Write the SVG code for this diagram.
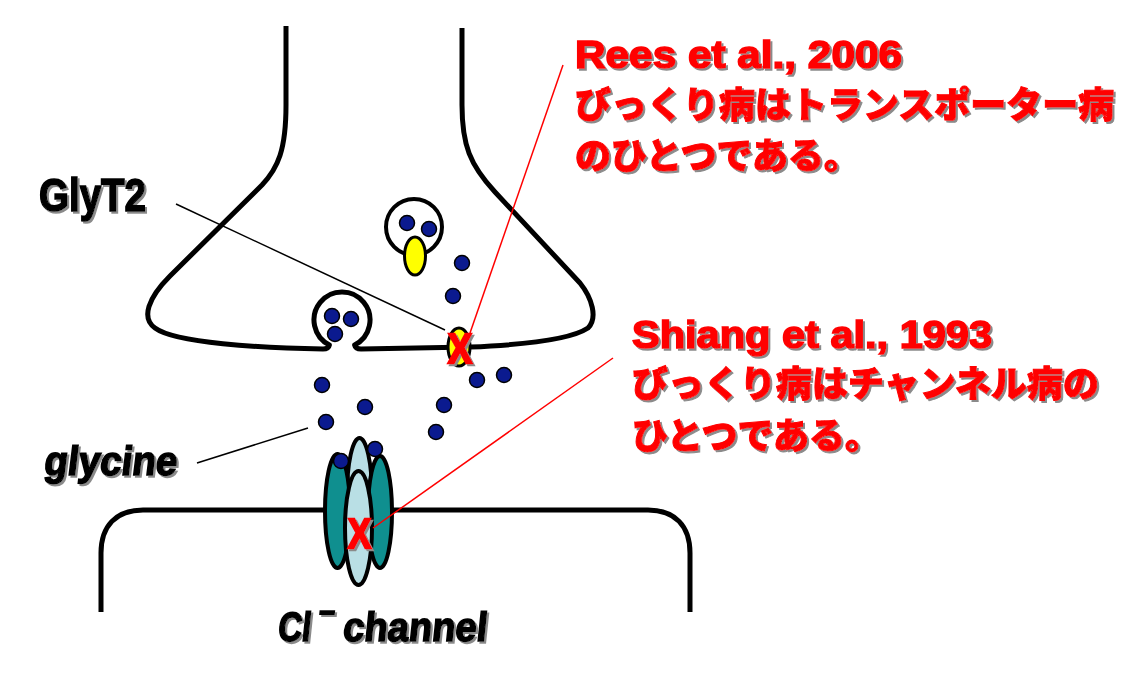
<svg xmlns="http://www.w3.org/2000/svg" width="1147" height="680" viewBox="0 0 1147 680">
<style>
.mem{fill:none;stroke:#000;stroke-width:5;stroke-linecap:butt;stroke-linejoin:round}
.ves{fill:#fff;stroke:#000;stroke-width:4}
.dot{fill:#0b1a8f;stroke:#000;stroke-width:1.5}
.yel{fill:#ffff00;stroke:#000;stroke-width:3}
.teal{fill:#0f8f8f;stroke:#000;stroke-width:4}
.lite{fill:#b9dfe5;stroke:#000;stroke-width:4}
.lead{fill:none;stroke:#000;stroke-width:1.5}
.redl{fill:none;stroke:#ff0000;stroke-width:1.5}
.red{fill:#ff0000;stroke:#ff0000;stroke-width:1.6;paint-order:stroke;font-family:"Liberation Sans","Noto Sans CJK JP",sans-serif;font-weight:bold}
.jp{fill:#ff0000;stroke:#ff0000;stroke-width:1;paint-order:stroke;font-family:"Noto Sans CJK JP",sans-serif;font-weight:900;font-size:36px}
.blk{fill:#000;stroke:#000;stroke-width:1.6;paint-order:stroke;font-family:"Liberation Sans",sans-serif;font-weight:bold}
.xm{fill:#ff0000;stroke:#ff0000;stroke-width:2.5;paint-order:stroke;font-family:"Liberation Sans",sans-serif;font-weight:bold;font-size:42px}
</style>
<defs>
<filter id="sh" x="-10%" y="-20%" width="130%" height="150%">
<feDropShadow dx="2" dy="2" stdDeviation="0.5" flood-color="#8a8a8a" flood-opacity="1"/>
</filter>
</defs>
<rect width="1147" height="680" fill="#fff"/>

<g id="postsynaptic">
<path class="mem" d="M101,612 L101,553 C101,526 116,510 143,510 L648,510 C675,510 690,526 690,553 L690,612"/>
</g>

<g id="presynaptic">
<path class="mem" d="M286,26 L286,105 C286,150 278,168 262,185 L170,276 C148,298 141,318 155,328 C175,343 260,348 323,349 C327,349 329,347 329.4,345 A28,28 0 1 1 354.6,345 C355,347 357,349 361,349 L470,347 C520,345 570,340 588,328 C598,318 592,298 580,283 L495,192 C470,165 462,145 462,105 L462,28"/>
</g>

<g id="vesicle-reserve">
<circle class="ves" cx="414" cy="227" r="28"/>
<circle class="dot" cx="407" cy="223" r="7.5"/>
<circle class="dot" cx="429" cy="229" r="7.5"/>
<ellipse class="yel" cx="415" cy="256" rx="10.5" ry="19"/>
</g>

<g id="vesicle-docked">
<circle class="dot" cx="332" cy="316" r="7.5"/>
<circle class="dot" cx="351" cy="319" r="7.5"/>
<circle class="dot" cx="335" cy="334" r="7.5"/>
</g>

<g id="glyt2">
<ellipse class="yel" cx="459" cy="347" rx="11" ry="19"/>
</g>

<g id="channel">
<ellipse class="lite" cx="359.5" cy="495" rx="12.5" ry="57"/>
<ellipse class="teal" cx="337.5" cy="511" rx="12.5" ry="57"/>
<ellipse class="teal" cx="380" cy="512" rx="12" ry="56"/>
<ellipse class="lite" cx="358.5" cy="528" rx="13.5" ry="57"/>
</g>

<g id="glycine-dots">
<circle class="dot" cx="462" cy="263" r="7.5"/>
<circle class="dot" cx="453" cy="296" r="7.5"/>
<circle class="dot" cx="322" cy="385" r="7.5"/>
<circle class="dot" cx="365" cy="407" r="7.5"/>
<circle class="dot" cx="326" cy="422" r="7.5"/>
<circle class="dot" cx="444" cy="405" r="7.5"/>
<circle class="dot" cx="436" cy="432" r="7.5"/>
<circle class="dot" cx="477" cy="380" r="7.5"/>
<circle class="dot" cx="504" cy="375" r="7.5"/>
<circle class="dot" cx="341" cy="461" r="7.5"/>
<circle class="dot" cx="375" cy="449" r="7.5"/>
</g>

<g id="connectors">
<line class="lead" x1="176" y1="204" x2="445" y2="330"/>
<line class="lead" x1="197" y1="463" x2="308" y2="428"/>
<line class="redl" x1="563" y1="65" x2="470" y2="333"/>
<line class="redl" x1="613" y1="358" x2="373" y2="528"/>
</g>

<g id="marks" filter="url(#sh)">
<text class="xm" x="448" y="363" textLength="24" lengthAdjust="spacingAndGlyphs">X</text>
<text class="xm" x="348" y="548" textLength="23" lengthAdjust="spacingAndGlyphs">X</text>
</g>

<g id="label-glyt2" filter="url(#sh)">
<text class="blk" x="39" y="211" font-size="47" textLength="107" lengthAdjust="spacingAndGlyphs">GlyT2</text>
</g>
<g id="label-glycine" filter="url(#sh)">
<text class="blk" transform="translate(43,475) skewX(-7)" font-size="41" textLength="133" lengthAdjust="spacingAndGlyphs">glycine</text>
</g>
<g id="label-channel" filter="url(#sh)">
<text class="blk" font-size="41" transform="translate(0,641) skewX(-6)"><tspan x="277" y="0" textLength="33" lengthAdjust="spacingAndGlyphs">Cl</tspan><tspan x="316" y="-19" font-size="28">−</tspan><tspan x="331" y="0"> </tspan><tspan x="342" y="0" textLength="144" lengthAdjust="spacingAndGlyphs">channel</tspan></text>
</g>

<g id="note-rees" filter="url(#sh)">
<text class="red" x="575" y="68" font-size="38" textLength="327" lengthAdjust="spacingAndGlyphs">Rees et al., 2006</text>
<text class="jp" x="575" y="118">びっくり病はトランスポーター病</text>
<text class="jp" x="575" y="169">のひとつである。</text>
</g>

<g id="note-shiang" filter="url(#sh)">
<text class="red" x="632" y="348" font-size="38" textLength="360" lengthAdjust="spacingAndGlyphs">Shiang et al., 1993</text>
<text class="jp" x="632" y="397">びっくり病はチャンネル病の</text>
<text class="jp" x="632" y="449">ひとつである。</text>
</g>
</svg>
